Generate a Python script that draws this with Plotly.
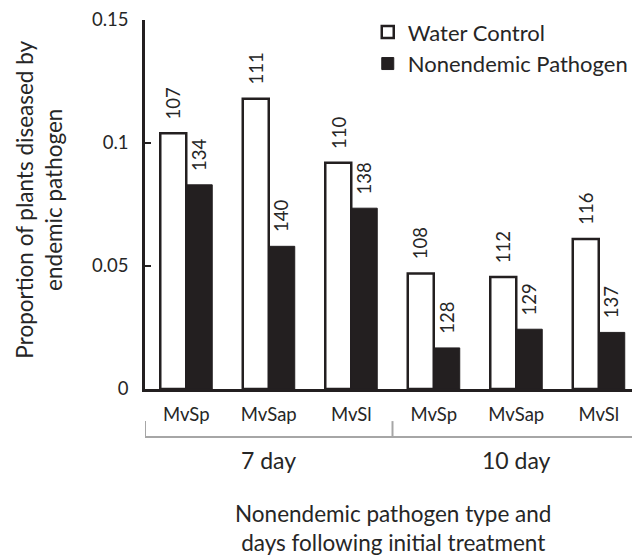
import plotly.graph_objects as go

categories = ["MvSp", "MvSap", "MvSl", "MvSp", "MvSap", "MvSl"]
groups = ["7 day", "10 day"]
water_control = [0.104, 0.118, 0.092, 0.047, 0.0455, 0.061]
nonendemic = [0.083, 0.058, 0.0735, 0.0167, 0.0243, 0.023]
water_n = ["107", "111", "110", "108", "112", "116"]
nonendemic_n = ["134", "140", "138", "128", "129", "137"]
y_ticks = [0, 0.05, 0.1, 0.15]
y_ticktext = ["0", "0.05", "0.1", "0.15"]

FONT = "Lato"
DARK = "#231f20"
TXT = "#262626"

x = list(range(len(categories)))
bargap = 0.37
half = (1 - bargap) / 4

fig = go.Figure()
fig.add_trace(go.Bar(x=x, y=water_control, name="Water Control",
                     marker=dict(color="white", line=dict(color=DARK, width=2.5))))
fig.add_trace(go.Bar(x=x, y=nonendemic, name="Nonendemic Pathogen",
                     marker=dict(color=DARK, line=dict(color=DARK, width=1))))

ann = []
for i in x:
    ann.append(dict(x=i - half, y=water_control[i], xref="x", yref="y", text=water_n[i],
                    textangle=-90, showarrow=False, yanchor="bottom", xanchor="center",
                    yshift=12, font=dict(family=FONT, size=18.5, color=TXT)))
    ann.append(dict(x=i + half, y=nonendemic[i], xref="x", yref="y", text=nonendemic_n[i],
                    textangle=-90, showarrow=False, yanchor="bottom", xanchor="center",
                    yshift=12, font=dict(family=FONT, size=18.5, color=TXT)))

# group labels
for g, center in zip(groups, [1, 4]):
    ann.append(dict(x=center, y=-0.192, xref="x", yref="paper", text=g, showarrow=False,
                    xanchor="center", yanchor="middle", font=dict(family=FONT, size=23, color=TXT)))

ann.append(dict(x=0.5, y=-0.376, xref="paper", yref="paper",
                text="Nonendemic pathogen type and<br>days following initial treatment",
                showarrow=False, xanchor="center", yanchor="middle",
                font=dict(family=FONT, size=22.5, color=TXT)))
ann.append(dict(x=-0.215, y=0.512, xref="paper", yref="paper",
                text="Proportion of plants diseased by<br>endemic pathogen", textangle=-90,
                showarrow=False, xanchor="center", yanchor="middle",
                font=dict(family=FONT, size=22.5, color=TXT)))

shapes = []
BR = "#a6a6a6"
shapes.append(dict(type="line", xref="x", yref="paper", x0=-0.5, x1=5.6, y0=-0.130, y1=-0.130,
                   line=dict(color=BR, width=2)))
for bx in [-0.5, 2.5]:
    shapes.append(dict(type="line", xref="x", yref="paper", x0=bx, x1=bx, y0=-0.087, y1=-0.130,
                       line=dict(color=BR, width=2)))

fig.update_layout(
    width=632, height=549,
    margin=dict(l=137, r=0, t=12, b=168),
    paper_bgcolor="white", plot_bgcolor="white",
    barmode="group", bargap=bargap, bargroupgap=0,
    showlegend=True,
    legend=dict(x=0.450, y=1.024, xanchor="left", yanchor="top",
                bgcolor="rgba(0,0,0,0)", font=dict(family=FONT, size=22, color=TXT)),
    annotations=ann, shapes=shapes,
    font=dict(family=FONT, color=TXT),
)
fig.update_xaxes(range=[-0.5, 5.5], tickvals=x, ticktext=categories, ticks="",
                 showline=True, linecolor=DARK, linewidth=2.5, showgrid=False, zeroline=False,
                 tickfont=dict(family=FONT, size=18.5, color=TXT), ticklabelstandoff=7)
fig.update_yaxes(range=[0, 0.15], tickvals=y_ticks, ticktext=y_ticktext, ticks="inside",
                 ticklen=6, tickwidth=2, tickcolor=DARK,
                 showline=True, linecolor=DARK, linewidth=2.5, showgrid=False, zeroline=False,
                 tickfont=dict(family=FONT, size=18.5, color=TXT), ticklabelstandoff=10)

fig.write_html("out.html")
